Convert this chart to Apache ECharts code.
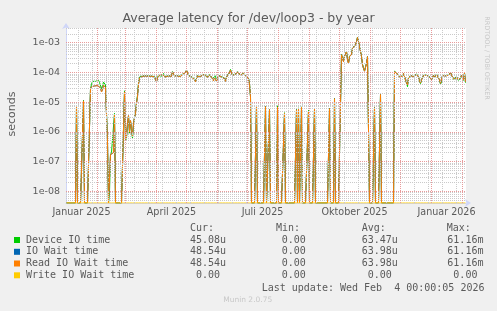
<!DOCTYPE html>
<html><head><meta charset="utf-8">
<script src="https://cdn.jsdelivr.net/npm/echarts@6/dist/echarts.min.js"></script>
<style>html,body{margin:0;padding:0;background:#f0f0f0;}#c{width:497px;height:311px;}</style>
</head><body><div id="c"></div>
<script>
// ---- data (one value per day, microseconds; day 0 = 2025-01-01) ----
const DAY = 86400000;
const START = Date.UTC(2025, 0, 1);
const deviceIOTime = [
0,0,0,0,0,0,0,0,0,0,
7.6,0,0,0,0,0,0,11.5,0,0,
0,0,0,0,28,40,50,44,55,50,
44,50,54,46,40,28,36,47,42,38,
33,0.5,0,0.009,0.17,0.2,0.19,0.21,4.2,0,
0,0,0,0,0,0,0,0,24,0.5,
0.6,1.8,3.4,0.9,2.3,1.1,0.6,1.8,3.1,4.4,
10,17,44,70,76,72,76,68,72,78,
74,70,76,72,80,76,84,78,72,60,
50,66,82,82,78,74,86,92,80,72,
76,70,78,90,84,76,106,94,78,74,
80,78,86,80,74,82,88,76,92,102,
120,98,80,74,78,72,66,76,60,50,
58,78,82,76,72,80,86,78,74,82,
70,70,78,84,80,72,62,54,68,76,
52,64,80,86,78,72,76,82,64,52,
70,82,90,98,126,96,82,76,80,88,
98,106,120,92,82,76,88,94,82,78,
86,72,64,42,16,0,0,0,0,0,
7.6,0,0,0,0,0,0,0,0,7.2,
0,0,0,5.8,0,0,0,0,0,0,
0,7.5,0,0,0,0,0,0,4.4,0,
0,0,0,0,0,0,0,0,0,0,
5.7,0,6.4,0,0,6.9,0,0,0,0,
0,0,5.3,0,0,0,0,0,6.2,0,
0,0,0,0,0,0,0,0,0,0,
0,0,0,6.3,0,0,0,0,13.5,0,
0,0,0,0,0,400,310,240,360,430,
510,270,210,350,310,410,660,720,620,870,
1100,1550,1120,750,520,350,190,140,112,100,
205,350,345,0,0,0,0,0,6.8,0,
0,0,0,0,18.5,0,0,0,0,0,
0,0,0,0,0,0,0,0,110,122,
98,90,82,72,64,70,77,94,102,87,
44,33,64,74,80,76,72,74,78,76,
88,82,72,50,42,54,68,80,72,76,
82,74,78,72,70,56,62,80,68,60,
88,82,78,54,40,48,80,76,74,78,
72,76,82,92,100,84,72,60,54,58,
72,66,54,60,64,80,74,54,97,45.08
];
const readIOWaitTime = [
0,0,0,0,0,0,0,0,0,0,
7.4,0,0,0,0,0,0,11,0,0,
0,0,0,0,28,33,34,31,35,37,
33,36,38,34,30,22,26,37,33,31,
30,0.45,0,0,0.17,0.19,0.18,0.2,3.7,0,
0,0,0,0,0,0,0,0,22,0.55,
0.7,1.9,3.5,1.0,2.4,1.2,0.7,1.9,3.0,4.2,
9,15,40,65,72,70,74,66,70,76,
72,68,74,70,78,74,82,76,70,58,
48,64,74,80,76,72,84,90,78,70,
74,68,76,88,82,74,104,92,76,70,
66,76,84,78,72,80,86,74,90,100,
118,96,78,72,76,70,64,74,58,48,
62,76,80,74,70,78,84,76,72,80,
74,68,76,82,78,70,60,52,66,74,
50,62,78,84,76,70,74,80,62,50,
68,80,88,96,120,94,80,74,78,86,
96,104,116,90,80,74,86,92,80,76,
84,70,62,40,15,0,0,0,0,0,
7.4,0,0,0,0,0,0,0,0,7.0,
0,0,0,5.6,0,0,0,0,0,0,
0,6.7,0,0,0,0,0,0,4.2,0,
0,0,0,0,0,0,0,0,0,0,
5.5,0,6.2,0,0,6.7,0,0,0,0,
0,0,5.0,0,0,0,0,0,5.8,0,
0,0,0,0,0,0,0,0,0,0,
0,0,0,6.0,0,0,0,0,13,0,
0,0,0,0,0,390,300,230,350,420,
500,260,200,340,300,400,650,700,600,850,
1080,1500,1100,730,500,340,180,137,110,98,
200,340,340,0,0,0,0,0,6.5,0,
0,0,0,0,18,0,0,0,0,0,
0,0,0,0,0,0,0,0,106,115,
95,88,80,70,62,68,75,92,100,85,
45,38,66,72,78,74,70,72,76,74,
86,80,70,52,44,56,66,78,70,74,
80,72,76,70,68,58,64,78,66,62,
86,80,76,56,43,50,78,74,72,76,
70,74,80,90,98,82,70,62,56,60,
70,64,56,62,66,78,72,56,95,48.54
];
// IO Wait time equals Read IO Wait time (identical statistics in the legend)
const ioWaitTime = readIOWaitTime.slice();
const writeIOWaitTime = [
0,0,0,0,0,0,0,0,0,0, 0,0,0,0,0,0,0,0,0,0, 0,0,0,0,0,0,0,0,0,0, 0,0,0,0,0,0,0,0,0,0,
0,0,0,0,0,0,0,0,0,0, 0,0,0,0,0,0,0,0,0,0, 0,0,0,0,0,0,0,0,0,0, 0,0,0,0,0,0,0,0,0,0,
0,0,0,0,0,0,0,0,0,0, 0,0,0,0,0,0,0,0,0,0, 0,0,0,0,0,0,0,0,0,0, 0,0,0,0,0,0,0,0,0,0,
0,0,0,0,0,0,0,0,0,0, 0,0,0,0,0,0,0,0,0,0, 0,0,0,0,0,0,0,0,0,0, 0,0,0,0,0,0,0,0,0,0,
0,0,0,0,0,0,0,0,0,0, 0,0,0,0,0,0,0,0,0,0, 0,0,0,0,0,0,0,0,0,0, 0,0,0,0,0,0,0,0,0,0,
0,0,0,0,0,0,0,0,0,0, 0,0,0,0,0,0,0,0,0,0, 0,0,0,0,0,0,0,0,0,0, 0,0,0,0,0,0,0,0,0,0,
0,0,0,0,0,0,0,0,0,0, 0,0,0,0,0,0,0,0,0,0, 0,0,0,0,0,0,0,0,0,0, 0,0,0,0,0,0,0,0,0,0,
0,0,0,0,0,0,0,0,0,0, 0,0,0,0,0,0,0,0,0,0, 0,0,0,0,0,0,0,0,0,0, 0,0,0,0,0,0,0,0,0,0,
0,0,0,0,0,0,0,0,0,0, 0,0,0,0,0,0,0,0,0,0, 0,0,0,0,0,0,0,0,0,0, 0,0,0,0,0,0,0,0,0,0,
0,0,0,0,0,0,0,0,0,0, 0,0,0,0,0,0,0,0,0,0, 0,0,0,0,0,0,0,0,0,0, 0,0,0,0,0,0,0,0,0,0
];
const seriesNames = ['Device IO time', 'IO Wait time', 'Read IO Wait time', 'Write IO Wait time'];
const seriesColors = ['#00CC00', '#0066B3', '#FF8000', '#FFCC00'];
const statCur = [' 45.08u', ' 48.54u', ' 48.54u', '  0.00 '];
const statMin = ['  0.00 ', '  0.00 ', '  0.00 ', '  0.00 '];
const statAvg = [' 63.47u', ' 63.98u', ' 63.98u', '  0.00 '];
const statMax = [' 61.16m', ' 61.16m', ' 61.16m', '  0.00 '];
const xTickLabels = ['Januar 2025', 'April 2025', 'Juli 2025', 'Oktober 2025', 'Januar 2026'];
const xTickDates = [Date.UTC(2025,0,16), Date.UTC(2025,3,16), Date.UTC(2025,6,16), Date.UTC(2025,9,16), Date.UTC(2026,0,16)];
const yTickValues = [1e-8, 1e-7, 1e-6, 1e-5, 1e-4, 1e-3];
const yTickLabels = ['1e-08', '1e-07', '1e-06', '1e-05', '1e-04', '1e-03'];

// ---- axis window ----
const XMIN = Date.UTC(2024, 11, 31, 12);
const XMAX = Date.UTC(2026, 1, 4, 12);
const YMIN = 4.0e-9, YMAX = 3.13e-3;

function toPoints(arr) {
  return arr.map((v, i) => [START + i * DAY, v > 0 ? v * 1e-6 : YMIN]);
}

// grid lines (rrdtool style)
const gridLines = [];
const minorStyle = {color: '#cacaca', width: 1, type: [1, 1]};
const majorStyle = {color: '#e89a9a', width: 1, type: [1, 1]};
function hLine(v, st) { gridLines.push([{coord: [XMIN, v], lineStyle: st}, {coord: [XMAX, v]}]); }
function vLine(t, st) { gridLines.push([{coord: [t, YMIN], lineStyle: st}, {coord: [t, YMAX]}]); }
for (let n = -9; n <= -3; n++) {
  for (let k = 2; k <= 9; k++) {
    const v = k * Math.pow(10, n);
    if (v > YMIN * 1.02 && v < YMAX) hLine(v, minorStyle);
  }
}
for (let t = Date.UTC(2025, 0, 13); t < XMAX; t += 14 * DAY) vLine(t, minorStyle);
yTickValues.forEach(v => hLine(v, majorStyle));
for (let m = 1; m <= 13; m++) vLine(Date.UTC(2025, m, 1), majorStyle);

const seriesData = [deviceIOTime, ioWaitTime, readIOWaitTime, writeIOWaitTime];
const series = [{
  type: 'line', data: [], silent: true, z: 1,
  markLine: {silent: true, symbol: ['none', 'none'], label: {show: false}, animation: false, data: gridLines}
}];
seriesData.forEach((arr, k) => series.push({
  type: 'line', name: seriesNames[k], data: toPoints(arr), showSymbol: false, symbol: 'none',
  lineStyle: {color: seriesColors[k], width: 1}, itemStyle: {color: seriesColors[k]}, z: 2, clip: true
}));

const TXT = '#5a5a5a';
const mono = '10px "DejaVu Sans Mono"';
const graphic = [
  {type: 'text', x: 248.5, y: 19, style: {text: 'Average latency for /dev/loop3 - by year', font: '12.5px "DejaVu Sans"', fill: TXT, align: 'center', verticalAlign: 'middle'}},
  {type: 'text', x: 12, y: 114, rotation: Math.PI / 2, style: {text: 'seconds', font: '11px "DejaVu Sans"', fill: TXT, align: 'center', verticalAlign: 'middle'}},
  {type: 'text', x: 486.5, y: 58, rotation: -Math.PI / 2, style: {text: 'RRDTOOL / TOBI OETIKER', font: '6.5px "DejaVu Sans"', fill: '#c8c8c8', align: 'center', verticalAlign: 'middle'}},
  {type: 'text', x: 190, y: 228, style: {text: 'Cur:', font: mono, fill: TXT, align: 'left', verticalAlign: 'middle'}},
  {type: 'text', x: 276, y: 228, style: {text: 'Min:', font: mono, fill: TXT, align: 'left', verticalAlign: 'middle'}},
  {type: 'text', x: 361.7, y: 228, style: {text: 'Avg:', font: mono, fill: TXT, align: 'left', verticalAlign: 'middle'}},
  {type: 'text', x: 446.7, y: 228, style: {text: 'Max:', font: mono, fill: TXT, align: 'left', verticalAlign: 'middle'}},
  {type: 'text', x: 261.7, y: 288, style: {text: 'Last update: Wed Feb  4 00:00:05 2026', font: mono, fill: TXT, align: 'left', verticalAlign: 'middle'}},
  {type: 'text', x: 247.7, y: 300, style: {text: 'Munin 2.0.75', font: '7.5px "DejaVu Sans"', fill: '#c8c8c8', align: 'center', verticalAlign: 'middle'}}
];
const rowY = [240, 251.8, 263.5, 275.3];
seriesNames.forEach((name, k) => {
  const y = rowY[k];
  graphic.push({type: 'rect', shape: {x: 14, y: y - 3, width: 6, height: 6}, style: {fill: seriesColors[k]}});
  graphic.push({type: 'text', x: 26, y: y, style: {text: name, font: mono, fill: TXT, align: 'left', verticalAlign: 'middle'}});
  graphic.push({type: 'text', x: 184, y: y, style: {text: statCur[k], font: mono, fill: TXT, align: 'left', verticalAlign: 'middle'}});
  graphic.push({type: 'text', x: 269.7, y: y, style: {text: statMin[k], font: mono, fill: TXT, align: 'left', verticalAlign: 'middle'}});
  graphic.push({type: 'text', x: 355.7, y: y, style: {text: statAvg[k], font: mono, fill: TXT, align: 'left', verticalAlign: 'middle'}});
  graphic.push({type: 'text', x: 441.3, y: y, style: {text: statMax[k], font: mono, fill: TXT, align: 'left', verticalAlign: 'middle'}});
});

const axisLineStyle = {color: '#CFD6F8', width: 1};
const option = {
  animation: false,
  backgroundColor: '#f0f0f0',
  textStyle: {fontFamily: 'DejaVu Sans'},
  grid: {left: 66, top: 28, width: 400, height: 175, show: true, backgroundColor: '#ffffff', borderWidth: 0},
  xAxis: {
    type: 'value', min: XMIN, max: XMAX, scale: true,
    axisLine: {show: true, onZero: false, lineStyle: axisLineStyle, symbol: ['none', 'arrow'], symbolSize: [6, 6], symbolOffset: [0, 5]},
    axisTick: {show: false}, splitLine: {show: false},
    axisLabel: {
      customValues: xTickDates, color: TXT, fontSize: 9.6, fontFamily: 'DejaVu Sans', margin: 4, hideOverlap: false,
      formatter: function (v) { const i = xTickDates.indexOf(+v); return i >= 0 ? xTickLabels[i] : ''; }
    }
  },
  yAxis: {
    type: 'log', logBase: 10, min: YMIN, max: YMAX,
    axisLine: {show: true, lineStyle: axisLineStyle, symbol: ['none', 'arrow'], symbolSize: [6, 6], symbolOffset: [0, 5]},
    axisTick: {show: false}, splitLine: {show: false}, minorTick: {show: false},
    axisLabel: {
      color: TXT, fontSize: 9.5, fontFamily: 'DejaVu Sans', margin: 6,
      formatter: function (v) {
        for (let i = 0; i < yTickValues.length; i++) if (Math.abs(Math.log10(v) - Math.log10(yTickValues[i])) < 1e-6) return yTickLabels[i];
        return '';
      }
    }
  },
  graphic: graphic,
  series: series
};
const chart = echarts.init(document.getElementById('c'), null, {renderer: 'canvas'});
chart.setOption(option);
</script></body></html>
